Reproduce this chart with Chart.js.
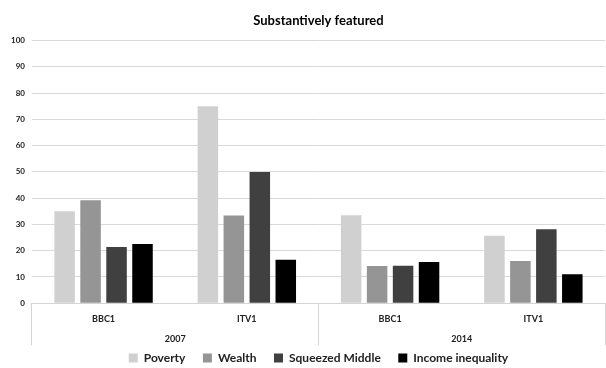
<!DOCTYPE html>
<html>
<head>
<meta charset="utf-8">
<script src="https://cdn.jsdelivr.net/npm/chart.js@4"></script>
<style>
  body { margin: 0; background: #fff; }
  #wrap { width: 606px; height: 368px; }
</style>
</head>
<body>
<div id="wrap"><canvas id="myChart"></canvas></div>
<script>
var channels = ['BBC1', 'ITV1', 'BBC1', 'ITV1'];
var years = ['2007', '2014'];
var poverty = [35, 75, 33.5, 25.7];
var wealth = [39.2, 33.4, 14.2, 16.1];
var squeezed = [21.4, 50, 14.3, 28.2];
var inequality = [22.5, 16.5, 15.7, 11];
var yTicks = [0, 10, 20, 30, 40, 50, 60, 70, 80, 90, 100];

var font = 'Lato, "Open Sans", sans-serif';

var ctx = document.getElementById('myChart').getContext('2d');
var myChart = new Chart(ctx, {
    type: 'bar',
    data: {
        labels: channels,
        datasets: [
            { label: 'Poverty', data: poverty, backgroundColor: '#d0d0d0' },
            { label: 'Wealth', data: wealth, backgroundColor: '#959595' },
            { label: 'Squeezed Middle', data: squeezed, backgroundColor: '#404040' },
            { label: 'Income inequality', data: inequality, backgroundColor: '#000000' }
        ]
    },
    options: {
        responsive: true,
        maintainAspectRatio: false,
        animation: false,
        layout: { padding: { left: 4, right: 1, bottom: -6 } },
        datasets: {
            bar: { barPercentage: 0.79, categoryPercentage: 0.725 }
        },
        plugins: {
            title: {
                display: true,
                fullSize: false,
                text: 'Substantively featured',
                color: '#000',
                font: { family: font, size: 13, weight: 'bold' },
                padding: { top: 13, bottom: 12 }
            },
            legend: {
                position: 'bottom',
                fullSize: false,
                labels: {
                    color: '#222',
                    boxWidth: 9,
                    boxHeight: 9,
                    padding: 0,
                    font: { family: font, size: 12, weight: 'bold' },
                    generateLabels: function (chart) {
                        // trailing spaces make the gap between legend items
                        var items = Chart.defaults.plugins.legend.labels.generateLabels(chart);
                        items.forEach(function (it, i) {
                            if (i < items.length - 1) it.text = it.text + '      ';
                        });
                        return items;
                    }
                }
            },
            tooltip: { enabled: false }
        },
        scales: {
            x: {
                weight: 1,
                grid: {
                    offset: true,
                    drawOnChartArea: false,
                    tickLength: 42,
                    color: function (c) {
                        return (c.index === undefined || c.index % 2 === 0) ? '#d4d4d4' : 'rgba(0,0,0,0)';
                    }
                },
                border: { display: true, color: '#d4d4d4' },
                ticks: {
                    color: '#222',
                    padding: -32,
                    autoSkip: false,
                    font: { family: font, size: 9, weight: 'bold' }
                },
                afterFit: function (axis) { axis.height = 22; }
            },
            x2: {
                type: 'category',
                position: 'bottom',
                weight: 2,
                labels: years,
                offset: true,
                grid: { display: false, drawTicks: false },
                border: { display: false },
                ticks: {
                    color: '#222',
                    padding: 8,
                    font: { family: font, size: 9, weight: 'bold' }
                }
            },
            y: {
                min: 0,
                max: 100,
                afterBuildTicks: function (axis) {
                    axis.ticks = yTicks.map(function (v) { return { value: v }; });
                },
                grid: { color: '#d9d9d9', drawTicks: false },
                border: { display: false },
                ticks: {
                    color: '#222',
                    padding: 7,
                    font: { family: font, size: 8, weight: 'bold' }
                }
            }
        }
    }
});
</script>
</body>
</html>
